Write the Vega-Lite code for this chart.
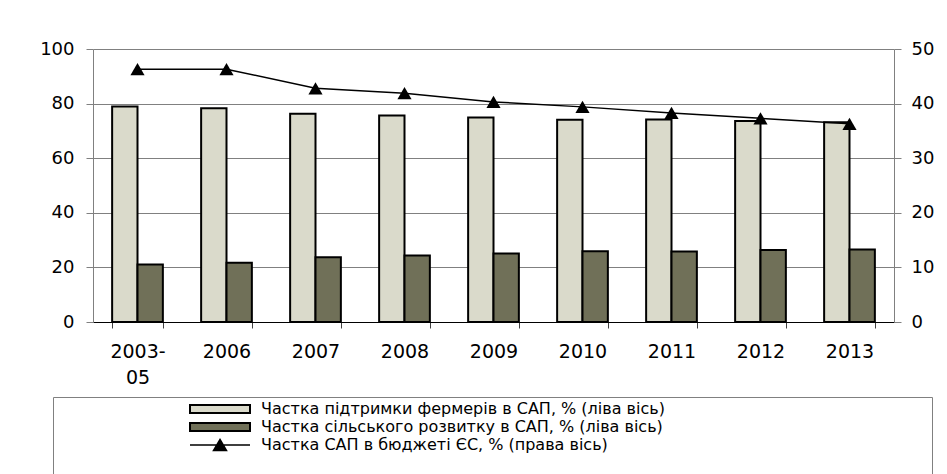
{
  "$schema": "https://vega.github.io/schema/vega-lite/v6.json",
  "width": 801,
  "height": 273,
  "autosize": {"type": "none"},
  "padding": {"left": 93, "top": 49, "right": 53, "bottom": 152},
  "background": "white",
  "config": {
    "view": {"stroke": null},
    "font": "DejaVu Sans",
    "axis": {"labelFont": "DejaVu Sans", "labelColor": "#000"},
    "legend": {"labelFont": "DejaVu Sans", "titleFont": "DejaVu Sans"}
  },
  "datasets": {
    "bars": [
      {"year": "2003-05", "series": "Частка підтримки фермерів в САП, % (ліва вісь)", "value": 78.9},
      {"year": "2003-05", "series": "Частка сільського розвитку в САП, % (ліва вісь)", "value": 21.1},
      {"year": "2006", "series": "Частка підтримки фермерів в САП, % (ліва вісь)", "value": 78.3},
      {"year": "2006", "series": "Частка сільського розвитку в САП, % (ліва вісь)", "value": 21.7},
      {"year": "2007", "series": "Частка підтримки фермерів в САП, % (ліва вісь)", "value": 76.3},
      {"year": "2007", "series": "Частка сільського розвитку в САП, % (ліва вісь)", "value": 23.7},
      {"year": "2008", "series": "Частка підтримки фермерів в САП, % (ліва вісь)", "value": 75.6},
      {"year": "2008", "series": "Частка сільського розвитку в САП, % (ліва вісь)", "value": 24.4},
      {"year": "2009", "series": "Частка підтримки фермерів в САП, % (ліва вісь)", "value": 74.9},
      {"year": "2009", "series": "Частка сільського розвитку в САП, % (ліва вісь)", "value": 25.1},
      {"year": "2010", "series": "Частка підтримки фермерів в САП, % (ліва вісь)", "value": 74.1},
      {"year": "2010", "series": "Частка сільського розвитку в САП, % (ліва вісь)", "value": 25.9},
      {"year": "2011", "series": "Частка підтримки фермерів в САП, % (ліва вісь)", "value": 74.2},
      {"year": "2011", "series": "Частка сільського розвитку в САП, % (ліва вісь)", "value": 25.8},
      {"year": "2012", "series": "Частка підтримки фермерів в САП, % (ліва вісь)", "value": 73.6},
      {"year": "2012", "series": "Частка сільського розвитку в САП, % (ліва вісь)", "value": 26.4},
      {"year": "2013", "series": "Частка підтримки фермерів в САП, % (ліва вісь)", "value": 73.2},
      {"year": "2013", "series": "Частка сільського розвитку в САП, % (ліва вісь)", "value": 26.6}
    ],
    "line": [
      {"year": "2003-05", "series": "Частка САП в бюджеті ЄС, % (права вісь)", "value": 46.3},
      {"year": "2006", "series": "Частка САП в бюджеті ЄС, % (права вісь)", "value": 46.3},
      {"year": "2007", "series": "Частка САП в бюджеті ЄС, % (права вісь)", "value": 42.8},
      {"year": "2008", "series": "Частка САП в бюджеті ЄС, % (права вісь)", "value": 41.9},
      {"year": "2009", "series": "Частка САП в бюджеті ЄС, % (права вісь)", "value": 40.3},
      {"year": "2010", "series": "Частка САП в бюджеті ЄС, % (права вісь)", "value": 39.4},
      {"year": "2011", "series": "Частка САП в бюджеті ЄС, % (права вісь)", "value": 38.3},
      {"year": "2012", "series": "Частка САП в бюджеті ЄС, % (права вісь)", "value": 37.3},
      {"year": "2013", "series": "Частка САП в бюджеті ЄС, % (права вісь)", "value": 36.3}
    ]
  },
  "layer": [
    {
      "data": {"name": "bars"},
      "mark": {"type": "bar", "stroke": "#000", "strokeWidth": 2, "strokeOpacity": 1},
      "encoding": {
        "x": {
          "field": "year", "type": "nominal", "sort": null,
          "scale": {"paddingInner": 0.43, "paddingOuter": 0.215},
          "axis": {
            "title": null, "labelAngle": 0, "labelFontSize": 19, "labelPadding": 14,
            "labelLineHeight": 26, "tickBand": "extent", "tickSize": 6,
            "tickColor": "#404040", "domainColor": "#000",
            "labelExpr": "datum.value === '2003-05' ? ['2003-', '05'] : datum.value"
          }
        },
        "xOffset": {"field": "series", "type": "nominal", "scale": {"paddingInner": 0, "paddingOuter": 0}},
        "y": {
          "field": "value", "type": "quantitative",
          "scale": {"domain": [0, 100]},
          "axis": {
            "orient": "left", "title": null, "values": [0, 20, 40, 60, 80, 100],
            "grid": true, "gridColor": "#808080", "gridWidth": 1,
            "domainColor": "#808080", "tickColor": "#808080", "tickSize": 7,
            "labelFontSize": 18, "labelPadding": 12
          }
        },
        "color": {
          "field": "series", "type": "nominal",
          "scale": {
            "domain": [
              "Частка підтримки фермерів в САП, % (ліва вісь)",
              "Частка сільського розвитку в САП, % (ліва вісь)"
            ],
            "range": ["#dadacb", "#707058"]
          },
          "legend": {
            "orient": "none", "legendX": -40, "legendY": 348, "direction": "vertical",
            "strokeColor": "#808080", "padding": 4,
            "labelFontSize": 16, "labelColor": "#000", "labelLimit": 1000,
            "symbolType": "M-6,-0.8H6V0.8H-6Z",
            "symbolStrokeColor": "#000", "symbolStrokeWidth": 2, "symbolOpacity": 1,
            "symbolSize": 100, "symbolOffset": 155, "labelOffset": 33, "rowPadding": 2,
            "title": "\u00a0",
            "titleOrient": "right", "titleAnchor": "start", "titleFontSize": 80,
            "titleLimit": 3000, "titlePadding": 263
          }
        }
      }
    },
    {
      "data": {"name": "line"},
      "encoding": {
        "x": {"field": "year", "type": "nominal", "sort": null},
        "y": {
          "field": "value", "type": "quantitative",
          "scale": {"domain": [0, 50]},
          "axis": {
            "orient": "right", "title": null, "values": [0, 10, 20, 30, 40, 50],
            "grid": false, "domainColor": "#808080", "tickColor": "#808080", "tickSize": 7,
            "labelFontSize": 18, "labelPadding": 10
          }
        }
      },
      "layer": [
        {
          "mark": {"type": "line", "strokeWidth": 1.5, "color": "#000"}
        },
        {
          "mark": {"type": "point", "shape": "triangle-up", "filled": true, "size": 200, "opacity": 1, "strokeWidth": 0},
          "encoding": {
            "fill": {
              "field": "series", "type": "nominal",
              "scale": {"domain": ["Частка САП в бюджеті ЄС, % (права вісь)"], "range": ["#000000"]},
              "legend": {
                "orient": "none", "legendX": -40, "legendY": 384, "direction": "vertical",
                "padding": 4, "title": null,
                "labelFontSize": 16, "labelColor": "#000", "labelLimit": 1000,
                "symbolType": "M-6,0H6M0,-1.1L1.3,1.1L-1.3,1.1Z",
                "symbolStrokeColor": "#000", "symbolStrokeWidth": 1.5, "symbolOpacity": 1,
                "symbolSize": 100, "symbolOffset": 155, "labelOffset": 33
              }
            }
          }
        }
      ]
    }
  ],
  "resolve": {"scale": {"y": "independent"}}
}
